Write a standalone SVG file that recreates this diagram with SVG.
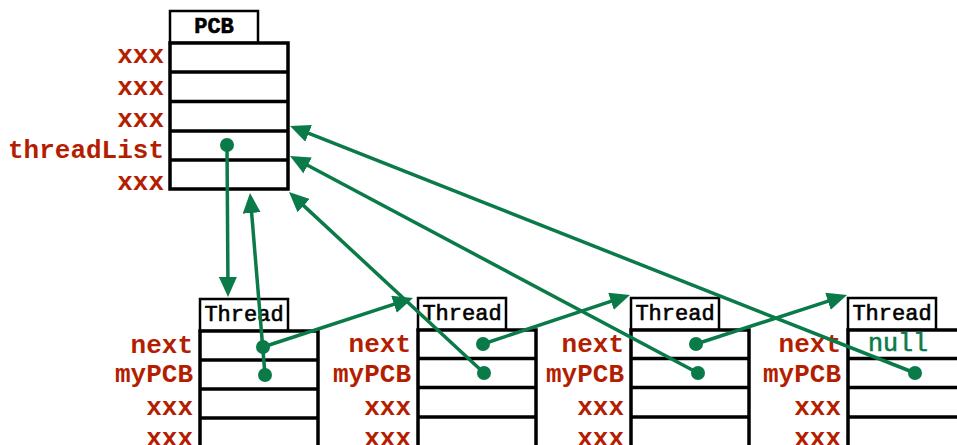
<svg xmlns="http://www.w3.org/2000/svg" width="957" height="445" viewBox="0 0 957 445">
  <style>
    .tab { fill: #ffffff; stroke: #000000; stroke-width: 2.5; }
    .box { fill: #ffffff; stroke: #000000; stroke-width: 3.5; }
    .row { stroke: #000000; stroke-width: 3.5; }
    .title { font-family: "Liberation Mono", "Courier New", monospace; font-size: 22px; fill: #000000; stroke: #000000; stroke-width: 0.6; text-anchor: middle; }
    .field { font-family: "Liberation Mono", "Courier New", monospace; font-size: 26px; font-weight: bold; fill: #b41e00; text-anchor: end; }
    .null { font-family: "Liberation Mono", "Courier New", monospace; font-size: 25px; fill: #0a7a48; stroke: #0a7a48; stroke-width: 0.6; }
    .link { fill: none; stroke: #0a7a48; stroke-width: 3.5; marker-end: url(#head); }
    .dot { fill: #0a7a48; }
  </style>
  <defs>
    <marker id="head" markerUnits="userSpaceOnUse" markerWidth="20" markerHeight="18" refX="14" refY="9" orient="auto">
      <path d="M0,0 L20,9 L0,18 z" fill="#0a7a48"/>
    </marker>
  </defs>

  <!-- process control block -->
  <g id="pcb">
    <rect class="tab" x="170" y="11" width="88" height="32"/>
    <text class="title" x="214" y="33" font-size="22" font-weight="bold" stroke-width="0">PCB</text>
    <rect class="box" x="170" y="43" width="118" height="146"/>
    <line class="row" x1="170" y1="72" x2="288" y2="72"/>
    <line class="row" x1="170" y1="101.5" x2="288" y2="101.5"/>
    <line class="row" x1="170" y1="131" x2="288" y2="131"/>
    <line class="row" x1="170" y1="160" x2="288" y2="160"/>
    <text class="field" x="164" y="63">xxx</text>
    <text class="field" x="164" y="95">xxx</text>
    <text class="field" x="164" y="127">xxx</text>
    <text class="field" x="164" y="158">threadList</text>
    <text class="field" x="164" y="190">xxx</text>
  </g>

  <!-- thread records -->
  <g id="thread1">
    <rect class="tab" x="200" y="299" width="88" height="32"/>
    <text class="title" x="244" y="321">Thread</text>
    <rect class="box" x="200" y="331" width="118" height="130"/>
    <line class="row" x1="200" y1="360" x2="318" y2="360"/>
    <line class="row" x1="200" y1="389" x2="318" y2="389"/>
    <line class="row" x1="200" y1="418" x2="318" y2="418"/>
    <text class="field" x="193" y="353">next</text>
    <text class="field" x="193" y="382">myPCB</text>
    <text class="field" x="193" y="415">xxx</text>
    <text class="field" x="193" y="446">xxx</text>
  </g>

  <g id="thread2">
    <rect class="tab" x="418" y="298" width="88" height="32"/>
    <text class="title" x="462" y="320">Thread</text>
    <rect class="box" x="418" y="330" width="118" height="130"/>
    <line class="row" x1="418" y1="358.5" x2="536" y2="358.5"/>
    <line class="row" x1="418" y1="387.5" x2="536" y2="387.5"/>
    <line class="row" x1="418" y1="417" x2="536" y2="417"/>
    <text class="field" x="411" y="352">next</text>
    <text class="field" x="411" y="382">myPCB</text>
    <text class="field" x="411" y="415">xxx</text>
    <text class="field" x="411" y="446">xxx</text>
  </g>

  <g id="thread3">
    <rect class="tab" x="631" y="298" width="88" height="32"/>
    <text class="title" x="675" y="320">Thread</text>
    <rect class="box" x="631" y="330" width="118" height="130"/>
    <line class="row" x1="631" y1="358.5" x2="749" y2="358.5"/>
    <line class="row" x1="631" y1="387.5" x2="749" y2="387.5"/>
    <line class="row" x1="631" y1="417" x2="749" y2="417"/>
    <text class="field" x="624" y="352">next</text>
    <text class="field" x="624" y="382">myPCB</text>
    <text class="field" x="624" y="415">xxx</text>
    <text class="field" x="624" y="446">xxx</text>
  </g>

  <g id="thread4">
    <rect class="tab" x="848" y="298" width="88" height="32"/>
    <text class="title" x="892" y="320">Thread</text>
    <rect class="box" x="848" y="330" width="118" height="130"/>
    <line class="row" x1="848" y1="358.5" x2="966" y2="358.5"/>
    <line class="row" x1="848" y1="387.5" x2="966" y2="387.5"/>
    <line class="row" x1="848" y1="417" x2="966" y2="417"/>
    <text class="field" x="841" y="352">next</text>
    <text class="field" x="841" y="382">myPCB</text>
    <text class="field" x="841" y="415">xxx</text>
    <text class="field" x="841" y="446">xxx</text>
    <text class="null" x="868" y="351">null</text>
  </g>

  <!-- pointers -->
  <g id="connectors">
    <!-- threadList -> first thread -->
    <line class="link" x1="227" y1="145" x2="228" y2="291"/>
    <!-- myPCB back-pointers -->
    <line class="link" x1="265" y1="375" x2="250.5" y2="199"/>
    <line class="link" x1="484" y1="373" x2="293.4" y2="196.1"/>
    <line class="link" x1="698" y1="373" x2="295.3" y2="158.8"/>
    <line class="link" x1="915" y1="373" x2="295.6" y2="128.2"/>
    <!-- next links -->
    <line class="link" x1="263" y1="347" x2="407.3" y2="299.9"/>
    <line class="link" x1="483" y1="344" x2="624.3" y2="296.9"/>
    <line class="link" x1="696" y1="344" x2="841.3" y2="296.9"/>
    <!-- pointer origins -->
    <circle class="dot" cx="227" cy="145" r="7"/>
    <circle class="dot" cx="263" cy="347" r="7"/>
    <circle class="dot" cx="265" cy="375" r="7"/>
    <circle class="dot" cx="483" cy="344" r="7"/>
    <circle class="dot" cx="484" cy="373" r="7"/>
    <circle class="dot" cx="696" cy="344" r="7"/>
    <circle class="dot" cx="698" cy="373" r="7"/>
    <circle class="dot" cx="915" cy="373" r="7"/>
  </g>
</svg>
